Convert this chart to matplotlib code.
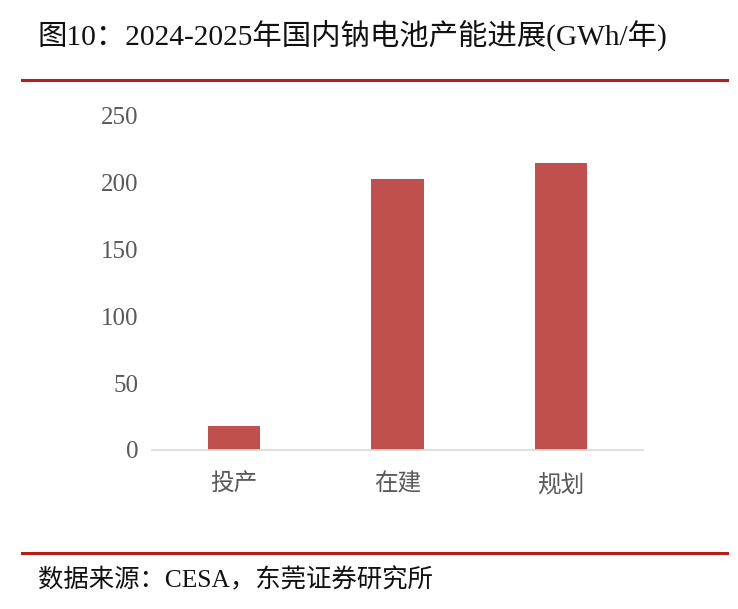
import matplotlib
matplotlib.use("Agg")
import matplotlib.pyplot as plt
from matplotlib.lines import Line2D

categories = ["投产", "在建", "规划"]
values = [18, 203, 215]
yticks = [0, 50, 100, 150, 200, 250]
title = "图10：2024-2025年国内钠电池产能进展(GWh/年)"
source = "数据来源：CESA，东莞证券研究所"

FAM = ["Liberation Serif", "Noto Sans CJK SC", "DejaVu Sans"]
plt.rcParams["font.family"] = FAM

W, H = 738, 609
fig = plt.figure(figsize=(W / 100, H / 100), dpi=100)
fig.patch.set_facecolor("white")

ax = fig.add_axes([152 / W, 1 - 450 / H, (643 - 152) / W, (450 - 116) / H])
x = list(range(len(categories)))
ax.bar(x, values, width=0.32, color="#C0504D", zorder=2)
ax.set_xlim(-0.5, len(categories) - 0.5)
ax.set_ylim(0, 250)
ax.set_yticks(yticks)
ax.set_yticklabels([str(t) for t in yticks], fontsize=18, color="#595959")
ax.set_xticks(x)
ax.set_xticklabels(categories, fontsize=17, color="#595959")
for s in ["top", "right", "left"]:
    ax.spines[s].set_visible(False)
ax.spines["bottom"].set_color("#D9D9D9")
ax.spines["bottom"].set_linewidth(1.2)
ax.tick_params(axis="both", length=0)
ax.tick_params(axis="y", pad=10)
ax.tick_params(axis="x", pad=17)

fig.text(38 / W, 1 - 35 / H, title, fontsize=21.2, color="#111111",
         va="center", ha="left", family=FAM)
fig.add_artist(Line2D([22 / W, 727 / W], [1 - 80 / H, 1 - 80 / H],
                      color="#B71C1C", linewidth=2.2, transform=fig.transFigure))
fig.add_artist(Line2D([22 / W, 727 / W], [1 - 553 / H, 1 - 553 / H],
                      color="#B71C1C", linewidth=2.2, transform=fig.transFigure))
fig.text(38 / W, 1 - 580 / H, source, fontsize=18.3, color="#111111",
         va="center", ha="left", family=FAM)

fig.savefig("out.png", dpi=100, facecolor="white")
